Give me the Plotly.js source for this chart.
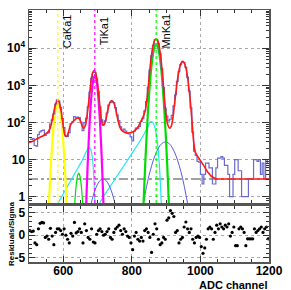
<!DOCTYPE html>
<html><head><meta charset="utf-8">
<script src="https://cdn.plot.ly/plotly-3.0.1.min.js"></script>
<style>html,body{margin:0;padding:0;background:#fff}#chart{width:291px;height:290px}</style>
</head><body><div id="chart"></div>
<script>
const binStart = 500, binWidth = 5;
const dataCounts = [
 35,35,37,24,23,47,56,60,62,45,
 51,53,90,118,170,315,407,376,250,127,
 73,43,42,53,94,103,145,132,140,135,
 101,60,99,131,262,657,1554,2228,2218,1508,
 686,262,118,87,110,180,293,346,360,341,
 251,161,112,76,62,66,59,51,49,41,
 32,58,71,68,79,107,127,206,366,888,
 2575,6194,12022,16720,17384,13395,7220,2808,865,245,
 148,110,122,155,281,559,1285,2346,3615,4267,
 4114,3036,1646,696,246,55,17,13,9,8.5,
 4,2.2,4,8,8,6,6,2.2,2.2,6,
 11,11,12,11,7,7,4,1,1,4,
 10,10,5,5,1,1,1,1,3,3,
 3,10,10,9,10,4,8,3,10,8];
const residuals = [
 1.0,0.8,0.9,-1.7,-2.1,1.4,2.6,2.8,2.7,-0.5,
 -0.2,-0.9,1.5,-0.2,-2.1,0.6,1.4,1.4,1.0,0.2,
 1.4,0,-0.9,-1.7,0.4,-0.2,2.8,0.5,0.8,1.4,
 0.6,-1.7,2.5,1.0,-0.5,-0.9,1.4,-1.5,-1.7,0.2,
 1.0,1.4,0.8,0,0.2,0.8,1.4,-0.5,-0.9,0.6,
 1.4,1.8,2.2,1.0,0.2,1.4,0.8,-0.2,-0.5,-1.7,
 -3.2,-0.2,0.6,-0.9,-1.3,-0.5,-1.3,1.0,1.4,0.6,
 -0.5,-3.8,0.2,2.5,1.4,-0.9,-2.1,-1.7,-0.5,-0.9,
 3.3,3.8,5.4,4.8,4.1,0.6,1.0,-1.7,-0.9,-0.5,
 1.8,2.9,1.4,0.6,1.4,-0.9,-1.7,-0.5,-0.2,-0.5,
 -2.5,-4.0,-2.8,-0.9,1.4,1.8,1.4,-0.9,0.6,2.2,
 1.4,2.5,1.8,1.4,2.2,1.8,2.5,-0.2,0.6,1.8,
 -2.3,-2.3,1.4,1.8,1.4,0.6,-2.3,-0.8,-0.8,-0.8,
 -0.8,1.4,0.6,1.0,1.4,1.8,0.6,1.4,1.8,-0.8];
const fitStep = 5;
const fitValues = [
 29,30,31,33,35,37,39,41,43,46,
 50,55,65,90,150,250,360,395,300,170,
 80,45,42,55,80,100,110,120,132,130,
 110,80,70,85,170,420,1100,2100,2550,2100,
 1100,400,140,85,90,130,220,330,385,370,
 290,180,110,75,62,57,54,53,52,53,
 54,57,62,70,82,100,125,160,230,500,
 1500,4400,9500,15000,18000,16500,11000,5000,1700,450,
 150,85,70,80,140,350,850,1850,3200,4200,
 4400,3600,2300,1100,420,120,32,16,13,11,
 9.5,8,6.8,5.7,4.8,4.2,3.7,3.4,3.2,3.05,
 3,3,3,3,3,3,3,3,3,3,
 3,3,3,3,3,3,3,3,3,3,
 3,3,3,3,3,3,3,3,3,3,
 3];
const caX = [557,560,563,566,569,572,575,578,581,584,587,590,593,596,599,602,605,608,611];
const caY = [0.35,1.46,5.2,15.5,39,84,152,232,299,325,299,232,152,84,39,15.5,5.2,1.46,0.35];
const tiX = [665,668,671,674,677,680,683,686,689,692,695,698,701,704,707,710,713,716,719];
const tiY = [0.18,1.28,7,30,106,294,648,1144,1607,1800,1607,1144,648,294,106,30,7,1.28,0.18];
const mnX = [831,835,839,843,847,851,855,859,863,867,871,875,879,883,887,891,895,899,903,907,911];
const mnY = [0.12,1.07,7.7,44,199,715,2030,4570,8170,11580,13000,11580,8170,4570,2030,715,199,44,7.7,1.07,0.12];
const escX = [630,633,636,639,642,645,648,651,654,657,660];
const escY = [0.19,0.58,1.4,2.6,3.8,4.3,3.8,2.6,1.4,0.58,0.19];
const tailTiX = [585,600,615,630,645,655,662,668,672,676,680,684,687,689,691,692.5];
const tailTiY = [0.68,1.2,2.1,3.7,6.5,9.5,13,17,20,21,19,13,7,3.5,1.2,0.5];
const tailMnX = [706,720,740,760,780,800,820,835,845,851,856,861,866,871,876,880,883,886];
const tailMnY = [0.68,1.1,2.1,4.0,7.6,14.5,28,48,70,95,108,100,80,50,22,8,2.5,0.6];
const bump1X = [676,684,692,700,708,716,724,732,740,748,756];
const bump1Y = [0.41,0.83,1.46,2.18,2.77,3,2.77,2.18,1.46,0.83,0.41];
const bump2X = [828,838,848,858,868,878,888,898,908,918,928,938,948,958,968];
const bump2Y = [0.34,1.1,3.1,7.0,13.2,20.8,27.4,30,27.4,20.8,13.2,7.0,3.1,1.1,0.34];
const bgLevel = 3;
const lineNames = ['CaKa1','TiKa1','MnKa1'];
const lineChannels = [584,692,871];
const lineColors = ['#ffff00','#ff00ff','#00ff00'];

const binCenters = dataCounts.map((_, i) => binStart + binWidth*(i+0.5));
const fitX = fitValues.map((_, i) => binStart + fitStep*i);

const F = 'Liberation Sans, Arial, sans-serif';
const traces = [
 {x:[binStart, binStart+binWidth*dataCounts.length], y:[bgLevel,bgLevel], mode:'lines', line:{color:'#444', width:1, dash:'dashdot'}, xaxis:'x', yaxis:'y'},
 {x:tailTiX, y:tailTiY, mode:'lines', line:{color:'#22e8f0', width:1.2, shape:'spline'}, xaxis:'x', yaxis:'y'},
 {x:tailMnX, y:tailMnY, mode:'lines', line:{color:'#22e8f0', width:1.2, shape:'spline'}, xaxis:'x', yaxis:'y'},
 {x:bump1X, y:bump1Y, mode:'lines', line:{color:'#5a5ae8', width:1, shape:'spline'}, xaxis:'x', yaxis:'y'},
 {x:bump2X, y:bump2Y, mode:'lines', line:{color:'#5a5ae8', width:1, shape:'spline'}, xaxis:'x', yaxis:'y'},
 {x:escX, y:escY, mode:'lines', line:{color:'#00dd00', width:1.2, shape:'spline'}, xaxis:'x', yaxis:'y'},
 {x:caX, y:caY, mode:'lines', line:{color:'#ffff00', width:2.2, shape:'spline'}, xaxis:'x', yaxis:'y'},
 {x:tiX, y:tiY, mode:'lines', line:{color:'#ff00ff', width:2.2, shape:'spline'}, xaxis:'x', yaxis:'y'},
 {x:mnX, y:mnY, mode:'lines', line:{color:'#00dd00', width:2.2, shape:'spline'}, xaxis:'x', yaxis:'y'},
 {x:binCenters, y:dataCounts, mode:'lines', line:{color:'#6a6ad0', width:1.2, shape:'hvh'}, xaxis:'x', yaxis:'y'},
 {x:fitX, y:fitValues, mode:'lines', line:{color:'#ff1a1a', width:1.6, shape:'spline', smoothing:0.8}, xaxis:'x', yaxis:'y'},
 {x:binCenters, y:residuals, mode:'markers', marker:{color:'#000', size:3.2}, xaxis:'x2', yaxis:'y2'}
];

const shapes = lineChannels.map((c, i) => ({type:'line', xref:'x', yref:'y domain', x0:c, x1:c, y0:0, y1:1,
  line:{color:lineColors[i], width:1.2, dash:'dot'}, layer:'above'}));

const annotations = lineNames.map((n, i) => ({text:n, x:lineChannels[i], xref:'x', xshift:10,
  y:0.915, yref:'paper', textangle:-90, showarrow:false, xanchor:'center', yanchor:'middle',
  font:{family:F, size:11, color:'#000'}}));
annotations.push({text:'ADC channel', xref:'paper', yref:'paper', x:1, y:-0.092, xanchor:'right', yanchor:'middle',
  showarrow:false, font:{family:F, size:11, color:'#000', weight:'bold'}});
annotations.push({text:'Residuals/Sigma', xref:'paper', yref:'paper', x:-0.075, y:0.111, textangle:-90,
  xanchor:'center', yanchor:'middle', showarrow:false, font:{family:F, size:8, color:'#000', weight:'bold'}});

const axFont = {family:F, size:12, color:'#000', weight:'bold'};
const common = {showline:true, linecolor:'#555', linewidth:1.5, mirror:'allticks', ticks:'inside',
  tickcolor:'#333', zeroline:false, showgrid:true, gridcolor:'#aaa', griddash:'dot', gridwidth:1};

const layout = {
  width:291, height:290, margin:{l:29, r:22, t:10, b:28},
  paper_bgcolor:'#fff', plot_bgcolor:'#fff', showlegend:false,
  xaxis: Object.assign({}, common, {anchor:'y', domain:[0,1], range:[500,1200], tick0:0, dtick:200,
    ticklen:6, showticklabels:false, minor:{ticks:'inside', dtick:50, ticklen:3, tickcolor:'#333', showgrid:false}}),
  xaxis2: Object.assign({}, common, {anchor:'y2', matches:'x', domain:[0,1], range:[500,1200], tick0:0, dtick:200,
    ticklen:6, tickfont:axFont, ticklabelstandoff:-3,
    minor:{ticks:'inside', dtick:50, ticklen:3, tickcolor:'#333', showgrid:false}}),
  yaxis: Object.assign({}, common, {anchor:'x', domain:[0.234,1], type:'log', range:[-0.17,5.03],
    tickmode:'array', tickvals:[1,10,100,1000,10000], ticktext:['1','10','10<sup>2</sup>','10<sup>3</sup>','10<sup>4</sup>'],
    ticklen:7, tickfont:axFont, minor:{ticks:'inside', dtick:'D1', ticklen:3, tickcolor:'#333', showgrid:false}}),
  yaxis2: Object.assign({}, common, {anchor:'x2', domain:[0,0.222], range:[-5.9,6.4],
    tickmode:'array', tickvals:[-5,0,5], ticktext:['-5','0','5'], ticklen:6, tickfont:axFont,
    minor:{ticks:'inside', dtick:1, ticklen:3, tickcolor:'#333', showgrid:false}}),
  shapes: shapes, annotations: annotations
};
Plotly.newPlot('chart', traces, layout, {staticPlot:true, displayModeBar:false});
</script></body></html>
